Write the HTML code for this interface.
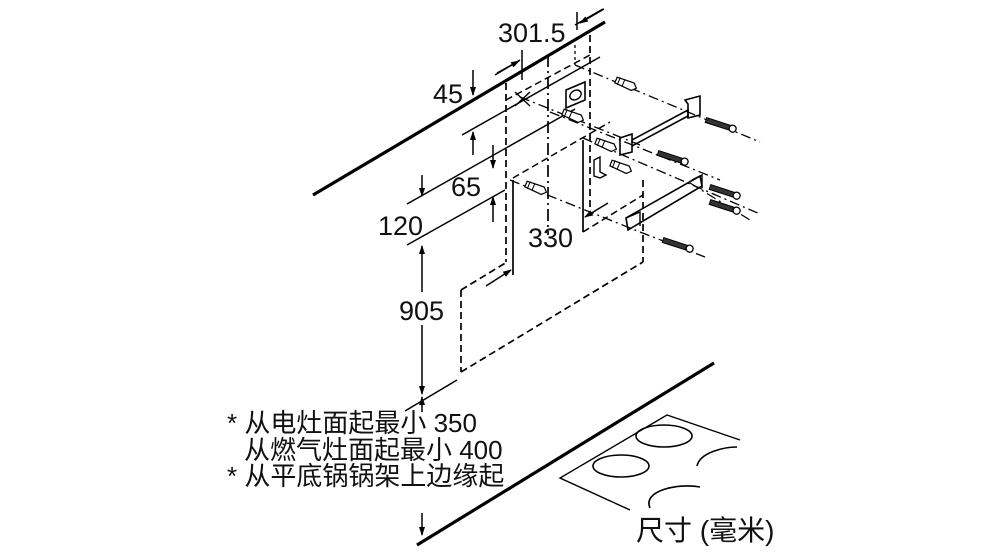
<!DOCTYPE html>
<html><head><meta charset="utf-8"><style>
html,body{margin:0;padding:0;background:#fff;}
svg{display:block}
text{font-family:"Liberation Sans","Noto Sans CJK SC",sans-serif;fill:#111}
</style></head><body>
<svg width="990" height="557" viewBox="0 0 990 557" xmlns="http://www.w3.org/2000/svg">
<defs>
<marker id="a" markerWidth="9" markerHeight="8" refX="8" refY="4" orient="auto" markerUnits="userSpaceOnUse"><path d="M0,1 L9,4 L0,7 z" fill="#000"/></marker>
<g id="scr"><path d="M0,-2.5 L26,-2.5 L26,2.5 L0,2.5 Z" fill="#333" stroke="#000" stroke-width="1"/><circle cx="28" cy="0" r="3.5" fill="#fff" stroke="#000" stroke-width="1.3"/></g>
<g id="anc"><path d="M0,-3 L18,-4 L22,0 L18,4 L0,3 Z" fill="#fff" stroke="#000" stroke-width="1.2"/><line x1="3" y1="-4" x2="3" y2="4" stroke="#000"/><line x1="8" y1="-4" x2="8" y2="4" stroke="#000"/></g>
</defs>
<g stroke="#000" fill="none">
<line x1="313" y1="195" x2="605" y2="22" stroke-width="3.2"/>
<line x1="417" y1="545" x2="714" y2="363" stroke-width="3.2"/>
<line x1="462" y1="135" x2="600" y2="57" stroke-width="1.5"/>
<line x1="407" y1="204" x2="575" y2="109" stroke-width="1.5"/>
<line x1="407" y1="245" x2="505" y2="190" stroke-width="1.5"/>
<line x1="405" y1="411" x2="457" y2="380" stroke-width="1.5"/>
<line x1="495" y1="75" x2="520" y2="60" stroke-width="1.5"/>
<line x1="575" y1="25" x2="603" y2="9" stroke-width="1.5"/>
<line x1="473" y1="70" x2="473" y2="95" stroke-width="1.5" marker-end="url(#a)"/>
<line x1="473" y1="155" x2="473" y2="132" stroke-width="1.5" marker-end="url(#a)"/>
<line x1="493" y1="145" x2="493" y2="168" stroke-width="1.5" marker-end="url(#a)"/>
<line x1="493" y1="222" x2="493" y2="197" stroke-width="1.5" marker-end="url(#a)"/>
<line x1="422" y1="175" x2="422" y2="196" stroke-width="1.5" marker-end="url(#a)"/>
<line x1="422" y1="292" x2="422" y2="246" stroke-width="1.5" marker-end="url(#a)"/>
<line x1="422" y1="325" x2="422" y2="394" stroke-width="1.5" marker-end="url(#a)"/>
<line x1="422" y1="412" x2="422" y2="397" stroke-width="1.5" marker-end="url(#a)"/>
<line x1="422" y1="513" x2="422" y2="535" stroke-width="1.5" marker-end="url(#a)"/>
<line x1="497" y1="73" x2="519" y2="61" stroke-width="1.5" marker-end="url(#a)"/>
<line x1="604" y1="9" x2="580" y2="23" stroke-width="1.5" marker-end="url(#a)"/>
<line x1="577" y1="12" x2="577" y2="30" stroke-width="1.5"/>
<line x1="522" y1="50" x2="522" y2="80" stroke-width="1.5"/>
<line x1="486" y1="286" x2="511" y2="270" stroke-width="1.5" marker-end="url(#a)"/>
<line x1="608" y1="203" x2="585" y2="217" stroke-width="1.5" marker-end="url(#a)"/>
<line x1="506" y1="83" x2="506" y2="262" stroke-width="1.7" stroke-dasharray="7,4"/>
<line x1="513" y1="180" x2="513" y2="275" stroke-width="1.7"/>
<line x1="548" y1="55" x2="548" y2="235" stroke-width="1.7" stroke-dasharray="12,4,2,4"/>
<line x1="590" y1="35" x2="590" y2="210" stroke-width="1.7" stroke-dasharray="7,4"/>
<line x1="583" y1="140" x2="583" y2="232" stroke-width="1.7"/>
<line x1="575" y1="45" x2="575" y2="65" stroke-width="1.3" stroke-dasharray="3,3"/>
<line x1="643" y1="180" x2="643" y2="262" stroke-width="1.7" stroke-dasharray="7,4"/>
<line x1="461" y1="290" x2="461" y2="372" stroke-width="1.7" stroke-dasharray="7,4"/>
<line x1="461" y1="290" x2="507" y2="262" stroke-width="1.7" stroke-dasharray="7,4"/>
<line x1="461" y1="372" x2="643" y2="262" stroke-width="1.7" stroke-dasharray="7,4"/>
<line x1="506" y1="100" x2="590" y2="55" stroke-width="1.5" stroke-dasharray="7,4"/>
<line x1="513" y1="178" x2="610" y2="122" stroke-width="1.5" stroke-dasharray="7,4"/>
<line x1="583" y1="232" x2="643" y2="195" stroke-width="1.5" stroke-dasharray="7,4"/>
<g stroke-width="1.3" stroke-dasharray="10,4,2,4">
<line x1="575" y1="65" x2="760" y2="142"/>
<line x1="520" y1="97" x2="640" y2="145"/>
<line x1="550" y1="112" x2="720" y2="180"/>
<line x1="583" y1="138" x2="760" y2="214"/>
<line x1="510" y1="180" x2="640" y2="232"/>
<line x1="640" y1="232" x2="705" y2="257"/>
<line x1="690" y1="183" x2="750" y2="220"/>
</g>
<line x1="515" y1="92" x2="530" y2="106" stroke-width="1.4"/>
<line x1="530" y1="92" x2="515" y2="106" stroke-width="1.4"/>
<path d="M566,90 L585,82 L585,100 L566,108 Z" stroke-width="1.6"/>
<ellipse cx="575.5" cy="95" rx="6" ry="4.5" transform="rotate(-30 575.5 95)" stroke-width="1.4"/>
<path d="M620,138 L632,134 L632,152 L620,155 Z" stroke-width="1.6"/>
<path d="M632,140 L688,110 L688,116 L632,146" stroke-width="1.6"/>
<path d="M685,100 L700,96 L700,115 L688,118 L688,104 Z" stroke-width="1.6"/>
<path d="M594,160 L600,157 L600,172 L606,175 L600,178 L594,176 Z" stroke-width="1.4"/>
<path d="M626,218 L700,176 L702,186 L628,230 Z" stroke-width="1.6"/>
<path d="M626,218 L640,212 L640,226" stroke-width="1.4"/>
<path d="M692,180 L702,175 L702,188" stroke-width="1.4"/>
<polyline points="740,440 667,415 560,478 630,510" stroke-width="1.4"/>
<ellipse cx="664" cy="436" rx="28" ry="11" stroke-width="1.6"/>
<ellipse cx="621" cy="466" rx="28" ry="11" stroke-width="1.6"/>
<path d="M697,466 C700,452 725,447 737,447" stroke-width="1.6"/>
<path d="M650,508 C642,490 680,483 700,487" stroke-width="1.6"/>
</g>
<use href="#anc" transform="translate(616,80) rotate(22)"/>
<use href="#anc" transform="translate(563,112) rotate(22)"/>
<use href="#anc" transform="translate(596,141) rotate(22)"/>
<use href="#anc" transform="translate(611,163) rotate(22)"/>
<use href="#anc" transform="translate(526,184) rotate(22)"/>
<use href="#scr" transform="translate(706,120) rotate(18)"/>
<use href="#scr" transform="translate(658,153) rotate(18)"/>
<use href="#scr" transform="translate(710,187) rotate(18)"/>
<use href="#scr" transform="translate(710,202) rotate(18)"/>
<use href="#scr" transform="translate(663,240) rotate(18)"/>
<g font-size="27">
<text x="498" y="42">301.5</text>
<text x="433" y="103">45</text>
<text x="451" y="196">65</text>
<text x="378" y="235">120</text>
<text x="528" y="247">330</text>
<text x="399" y="320">905</text>
</g>
<g font-size="26">
<text x="227" y="432">* 从电灶面起最小 350</text>
<text x="244" y="459">从燃气灶面起最小 400</text>
<text x="227" y="485">* 从平底锅锅架上边缘起</text>
<text x="636" y="540" font-size="28">尺寸 (毫米)</text>
</g>
</svg>
</body></html>
